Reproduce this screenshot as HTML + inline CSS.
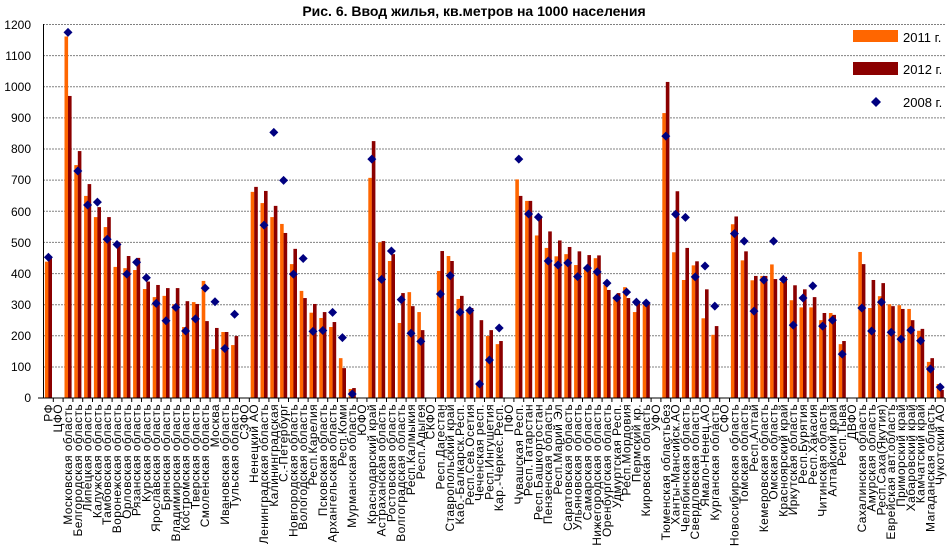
<!DOCTYPE html>
<html><head><meta charset="utf-8"><style>
html,body{margin:0;padding:0;background:#fff;}
svg{display:block;font-family:"Liberation Sans",Arial,sans-serif;}
</style></head><body>
<svg id="s" width="949" height="555" viewBox="0 0 949 555" xmlns="http://www.w3.org/2000/svg">
<rect width="949" height="555" fill="#fff"/>
<text x="474" y="16" text-anchor="middle" font-size="14" font-weight="bold">Рис. 6. Ввод жилья, кв.метров на 1000 населения</text>
<g id="grid" stroke="#808080" stroke-width="1" stroke-dasharray="2,1">
<line x1="43" x2="945" y1="24.5" y2="24.5"/><line x1="43" x2="945" y1="55.6" y2="55.6"/><line x1="43" x2="945" y1="86.7" y2="86.7"/><line x1="43" x2="945" y1="117.9" y2="117.9"/><line x1="43" x2="945" y1="149" y2="149"/><line x1="43" x2="945" y1="180.1" y2="180.1"/><line x1="43" x2="945" y1="211.3" y2="211.3"/><line x1="43" x2="945" y1="242.4" y2="242.4"/><line x1="43" x2="945" y1="273.6" y2="273.6"/><line x1="43" x2="945" y1="304.7" y2="304.7"/><line x1="43" x2="945" y1="335.8" y2="335.8"/><line x1="43" x2="945" y1="367" y2="367"/>
</g>
<g font-size="12" text-anchor="end">
<text x="31" y="29">1200</text><text x="31" y="60">1100</text><text x="31" y="91">1000</text><text x="31" y="122">900</text><text x="31" y="153">800</text><text x="31" y="184">700</text><text x="31" y="216">600</text><text x="31" y="247">500</text><text x="31" y="278">400</text><text x="31" y="309">300</text><text x="31" y="340">200</text><text x="31" y="371">100</text><text x="31" y="402">0</text>
</g>
<g id="bars"></g>
<g id="dia"></g>
<line x1="43.5" x2="43.5" y1="24" y2="398" stroke="#000"/>
<line x1="38" x2="945" y1="398" y2="398" stroke="#000"/>
<g id="ticks" stroke="#000"></g>
<g font-size="12" text-anchor="end" letter-spacing="0.4">
<text transform="translate(52.4 404) rotate(-90)">РФ</text>
<text transform="translate(62.2 404) rotate(-90)">ЦФО</text>
<text transform="translate(72.0 404) rotate(-90)">Московская область</text>
<text transform="translate(81.8 404) rotate(-90)">Белгородская область</text>
<text transform="translate(91.6 404) rotate(-90)">Липецкая область</text>
<text transform="translate(101.4 404) rotate(-90)">Калужская область</text>
<text transform="translate(111.2 404) rotate(-90)">Тамбовская область</text>
<text transform="translate(121.0 404) rotate(-90)">Воронежская область</text>
<text transform="translate(130.8 404) rotate(-90)">Орловская область</text>
<text transform="translate(140.6 404) rotate(-90)">Рязанская область</text>
<text transform="translate(150.4 404) rotate(-90)">Курская область</text>
<text transform="translate(160.2 404) rotate(-90)">Ярославская область</text>
<text transform="translate(170.0 404) rotate(-90)">Брянская область</text>
<text transform="translate(179.8 404) rotate(-90)">Владимирская область</text>
<text transform="translate(189.6 404) rotate(-90)">Костромская область</text>
<text transform="translate(199.4 404) rotate(-90)">Тверская область</text>
<text transform="translate(209.2 404) rotate(-90)">Смоленская область</text>
<text transform="translate(219.0 404) rotate(-90)">Москва</text>
<text transform="translate(228.8 404) rotate(-90)">Ивановская область</text>
<text transform="translate(238.6 404) rotate(-90)">Тульская область</text>
<text transform="translate(248.4 404) rotate(-90)">СЗФО</text>
<text transform="translate(258.2 404) rotate(-90)">Ненецкий АО</text>
<text transform="translate(268.0 404) rotate(-90)">Ленинградская область</text>
<text transform="translate(277.8 404) rotate(-90)">Калининградская</text>
<text transform="translate(287.6 404) rotate(-90)">С.-Петербург</text>
<text transform="translate(297.4 404) rotate(-90)">Новгородская область</text>
<text transform="translate(307.2 404) rotate(-90)">Вологодская область</text>
<text transform="translate(317.0 404) rotate(-90)">Респ.Карелия</text>
<text transform="translate(326.8 404) rotate(-90)">Псковская область</text>
<text transform="translate(336.6 404) rotate(-90)">Архангельская область</text>
<text transform="translate(346.4 404) rotate(-90)">Респ.Коми</text>
<text transform="translate(356.2 404) rotate(-90)">Мурманская область</text>
<text transform="translate(366.0 404) rotate(-90)">ЮФО</text>
<text transform="translate(375.8 404) rotate(-90)">Краснодарский край</text>
<text transform="translate(385.6 404) rotate(-90)">Астраханская область</text>
<text transform="translate(395.4 404) rotate(-90)">Ростовская область</text>
<text transform="translate(405.2 404) rotate(-90)">Волгоградская область</text>
<text transform="translate(415.0 404) rotate(-90)">Респ.Калмыкия</text>
<text transform="translate(424.8 404) rotate(-90)">Респ.Адыгея</text>
<text transform="translate(434.6 404) rotate(-90)">СКФО</text>
<text transform="translate(444.4 404) rotate(-90)">Респ.Дагестан</text>
<text transform="translate(454.2 404) rotate(-90)">Ставропольский край</text>
<text transform="translate(464.0 404) rotate(-90)">Каб.-Балкарск.Респ.</text>
<text transform="translate(473.8 404) rotate(-90)">Респ.Сев.Осетия</text>
<text transform="translate(483.6 404) rotate(-90)">Чеченская респ.</text>
<text transform="translate(493.4 404) rotate(-90)">Респ.Ингушетия</text>
<text transform="translate(503.2 404) rotate(-90)">Кар.-Черкес.Респ.</text>
<text transform="translate(513.0 404) rotate(-90)">ПФО</text>
<text transform="translate(522.8 404) rotate(-90)">Чувашская Респ.</text>
<text transform="translate(532.6 404) rotate(-90)">Респ.Татарстан</text>
<text transform="translate(542.4 404) rotate(-90)">Респ.Башкортостан</text>
<text transform="translate(552.2 404) rotate(-90)">Пензенская область</text>
<text transform="translate(562.0 404) rotate(-90)">Респ.Марий Эл</text>
<text transform="translate(571.8 404) rotate(-90)">Саратовская область</text>
<text transform="translate(581.6 404) rotate(-90)">Ульяновская область</text>
<text transform="translate(591.4 404) rotate(-90)">Самарская область</text>
<text transform="translate(601.2 404) rotate(-90)">Нижегородская область</text>
<text transform="translate(611.0 404) rotate(-90)">Оренбургская область</text>
<text transform="translate(620.8 404) rotate(-90)">Удмуртская Респ.</text>
<text transform="translate(630.6 404) rotate(-90)">Респ.Мордовия</text>
<text transform="translate(640.4 404) rotate(-90)">Пермский кр.</text>
<text transform="translate(650.2 404) rotate(-90)">Кировская область</text>
<text transform="translate(660.0 404) rotate(-90)">УФО</text>
<text transform="translate(669.8 404) rotate(-90)">Тюменская областьбез</text>
<text transform="translate(679.6 404) rotate(-90)">Ханты-Мансийск.АО</text>
<text transform="translate(689.4 404) rotate(-90)">Челябинская область</text>
<text transform="translate(699.2 404) rotate(-90)">Свердловская область</text>
<text transform="translate(709.0 404) rotate(-90)">Ямало-Ненец.АО</text>
<text transform="translate(718.8 404) rotate(-90)">Курганская область</text>
<text transform="translate(728.6 404) rotate(-90)">СФО</text>
<text transform="translate(738.4 404) rotate(-90)">Новосибирская область</text>
<text transform="translate(748.2 404) rotate(-90)">Томская область</text>
<text transform="translate(758.0 404) rotate(-90)">Респ.Алтай</text>
<text transform="translate(767.8 404) rotate(-90)">Кемеровская область</text>
<text transform="translate(777.6 404) rotate(-90)">Омская область</text>
<text transform="translate(787.4 404) rotate(-90)">Красноярский край</text>
<text transform="translate(797.2 404) rotate(-90)">Иркутская область</text>
<text transform="translate(807.0 404) rotate(-90)">Респ.Бурятия</text>
<text transform="translate(816.8 404) rotate(-90)">Респ.Хакасия</text>
<text transform="translate(826.6 404) rotate(-90)">Читинская область</text>
<text transform="translate(836.4 404) rotate(-90)">Алтайский край</text>
<text transform="translate(846.2 404) rotate(-90)">Респ.Тыва</text>
<text transform="translate(856.0 404) rotate(-90)">ДВФО</text>
<text transform="translate(865.8 404) rotate(-90)">Сахалинская область</text>
<text transform="translate(875.6 404) rotate(-90)">Амурская область</text>
<text transform="translate(885.4 404) rotate(-90)">Респ.Саха(Якутия)</text>
<text transform="translate(895.2 404) rotate(-90)">Еврейская авт.область</text>
<text transform="translate(905.0 404) rotate(-90)">Приморский край</text>
<text transform="translate(914.8 404) rotate(-90)">Хабаровский край</text>
<text transform="translate(924.6 404) rotate(-90)">Камчатский край</text>
<text transform="translate(934.4 404) rotate(-90)">Магаданская область</text>
<text transform="translate(944.2 404) rotate(-90)">Чукотский АО</text>
</g>
<rect x="853" y="30" width="45" height="12" fill="#FF6600"/>
<text x="903" y="42" font-size="13">2011 г.</text>
<rect x="853" y="62" width="45" height="13" fill="#8B0000"/>
<text x="903" y="74" font-size="13">2012 г.</text>
<polygon points="876,97 881,102 876,107 871,102" fill="#000080"/>
<text x="903" y="107" font-size="13">2008 г.</text>
</svg>
<script>
var N=null;
var a11=[437,N,1160,747,648,580,548,420,416,410,349,323,327,300,227,307,375,156,211,169,N,661,625,580,558,429,343,273,256,227,127,28,N,706,499,439,240,339,275,N,407,455,317,275,44,198,172,N,701,632,521,481,454,461,426,420,448,362,323,355,275,301,N,914,467,378,425,255,202,N,557,441,377,391,428,372,313,290,290,249,272,172,N,468,288,326,300,297,285,215,115,44];
var a12=[450,N,969,792,686,612,580,499,455,449,373,362,352,352,310,301,246,224,211,198,N,677,664,616,529,478,320,301,275,243,95,31,N,824,503,461,336,294,217,N,471,439,327,288,249,217,182,N,648,632,580,534,505,484,470,458,457,346,336,320,307,301,N,1014,663,481,438,348,230,N,582,470,391,391,381,388,361,348,323,272,266,182,N,429,378,368,294,285,249,221,127,25];
var a08=[451,N,1173,728,619,628,509,492,397,435,385,303,247,290,214,253,352,308,158,268,N,N,554,852,698,397,447,213,216,274,193,12,N,766,380,471,315,207,181,N,333,392,275,280,44,121,224,N,766,590,580,439,426,433,389,416,404,368,320,339,307,304,N,840,589,579,388,423,294,N,527,503,278,378,503,380,233,320,359,230,249,140,N,288,214,307,210,188,217,183,92,34];
var ns="http://www.w3.org/2000/svg",B=document.getElementById("bars"),D=document.getElementById("dia"),T=document.getElementById("ticks");
function Y(v){return 397.7-v*0.3114;}
function el(p,n,at){var e=document.createElementNS(ns,n);for(var k in at)e.setAttribute(k,at[k]);p.appendChild(e);}
for(var i=0;i<92;i++){var c=48.4+9.8*i;
 if(a11[i]!=N)el(B,"rect",{x:c-3.5,y:Y(a11[i]),width:3.6,height:a11[i]*0.3114,fill:"#FF6600"});
 if(a12[i]!=N)el(B,"rect",{x:c,y:Y(a12[i]),width:3.6,height:a12[i]*0.3114,fill:"#8B0000"});
 if(a08[i]!=N){var y=Y(a08[i]);el(D,"polygon",{points:(c)+","+(y-4.5)+" "+(c+4.5)+","+y+" "+c+","+(y+4.5)+" "+(c-4.5)+","+y,fill:"#000080"});}
 var tx=43.5+9.8*(i+1);el(T,"line",{x1:tx,x2:tx,y1:398,y2:402});
}
</script>
</body></html>
